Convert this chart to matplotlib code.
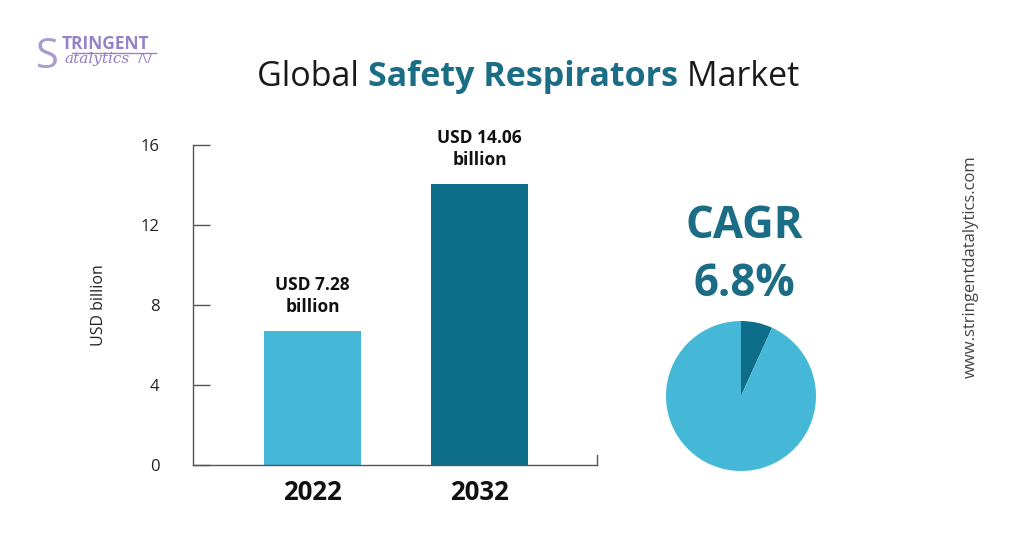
import matplotlib
matplotlib.use("Agg")
import matplotlib.pyplot as plt

years = ["2022", "2032"]
values = [6.7, 14.05]
bar_labels = ["USD 7.28\nbillion", "USD 14.06\nbillion"]
yticks = [0, 4, 8, 12, 16]
cagr = 6.8
pie_vals = [cagr, 100 - cagr]

LIGHT = "#45B8D8"
DARK = "#0E6E89"
TEAL = "#1B6C85"
plt.rcParams["font.family"] = ["Open Sans", "DejaVu Sans"]

fig = plt.figure(figsize=(10.24, 5.35), dpi=100)

# bar chart
ax = fig.add_axes([193 / 1024, 1 - 465 / 535, 404 / 1024, 320 / 535])
x = [0, 1]
ax.bar(x, values, 0.581, color=[LIGHT, DARK])
for xi, v, lab in zip(x, values, bar_labels):
    ax.annotate(lab, xy=(xi, v), xytext=(0, 11), textcoords="offset points",
                ha="center", va="bottom", fontsize=12.5, fontweight="bold",
                color="#111111", linespacing=1.3)
ax.set_xlim(-0.716, 1.704)
ax.set_ylim(0, 16)
ax.set_yticks(yticks)
ax.set_xticks(x)
ax.set_xticklabels(years, fontsize=18.5, fontweight="bold", color="#111111")
ax.tick_params(axis="y", direction="in", length=12, width=1, color="#555555",
               pad=24, labelsize=12, labelcolor="#222222")
ax.tick_params(axis="x", length=0, pad=10)
ax.spines["top"].set_visible(False)
ax.spines["right"].set_bounds(0, 0.5)
for s in ("left", "bottom", "right"):
    ax.spines[s].set_color("#555555")
    ax.spines[s].set_linewidth(1)
ax.set_ylabel("USD billion", fontsize=11.5, color="#222222", labelpad=24)

# pie
pax = fig.add_axes([666 / 1024, 1 - 471 / 535, 150 / 1024, 150 / 535])
pax.pie(pie_vals, colors=[DARK, LIGHT], startangle=90, counterclock=False)
pax.set_xlim(-1, 1)
pax.set_ylim(-1, 1)
pax.set_aspect("equal")

fig.text(744 / 1024, 1 - 226 / 535, "CAGR", ha="center", va="center",
         fontsize=31.5, fontweight="bold", color=TEAL)
fig.text(744 / 1024, 1 - 284 / 535, f"{cagr}%", ha="center", va="center",
         fontsize=31.5, fontweight="bold", color=TEAL)

# title in three pieces
t1 = fig.text(257 / 1024, 1 - 94 / 535, "Global ", ha="left", va="bottom",
              fontsize=24.5, color="#1a1a1a")
t2 = fig.text(0, 0, "Safety Respirators", fontsize=24.5, fontweight="bold",
              color=TEAL, ha="left", va="bottom")
t3 = fig.text(0, 0, " Market", fontsize=24.5, color="#1a1a1a", ha="left",
              va="bottom")
fig.canvas.draw()
r = fig.canvas.get_renderer()
bb1 = t1.get_window_extent(r)
t2.set_position((bb1.x1 / fig.bbox.width, bb1.y0 / fig.bbox.height))
bb2 = t2.get_window_extent(r)
t3.set_position((bb2.x1 / fig.bbox.width, bb2.y0 / fig.bbox.height))

# side url
fig.text(971 / 1024, 1 - 267 / 535, "www.stringentdatalytics.com",
         rotation=90, ha="center", va="center", fontsize=12, color="#444444")

# logo
fig.text(36 / 1024, 1 - 68 / 535, "S", fontsize=30, color="#A99AD0",
         ha="left", va="baseline")
fig.text(62 / 1024, 1 - 49 / 535, "TRINGENT", fontsize=12.5, fontweight="bold",
         color="#9483C8", ha="left", va="baseline")
fig.lines.append(plt.Line2D([72 / 1024, 156 / 1024], [1 - 53 / 535, 1 - 53 / 535],
                            transform=fig.transFigure, color="#9483C8", lw=1))
fig.text(64 / 1024, 1 - 63 / 535, "atalytics", fontsize=11, style="italic",
         color="#8F7FC4", ha="left", va="baseline", family="DejaVu Serif")
fig.text(138 / 1024, 1 - 63 / 535, "/\\/", fontsize=10, color="#8F7FC4",
         ha="left", va="baseline")

fig.savefig("out.png", dpi=100)
